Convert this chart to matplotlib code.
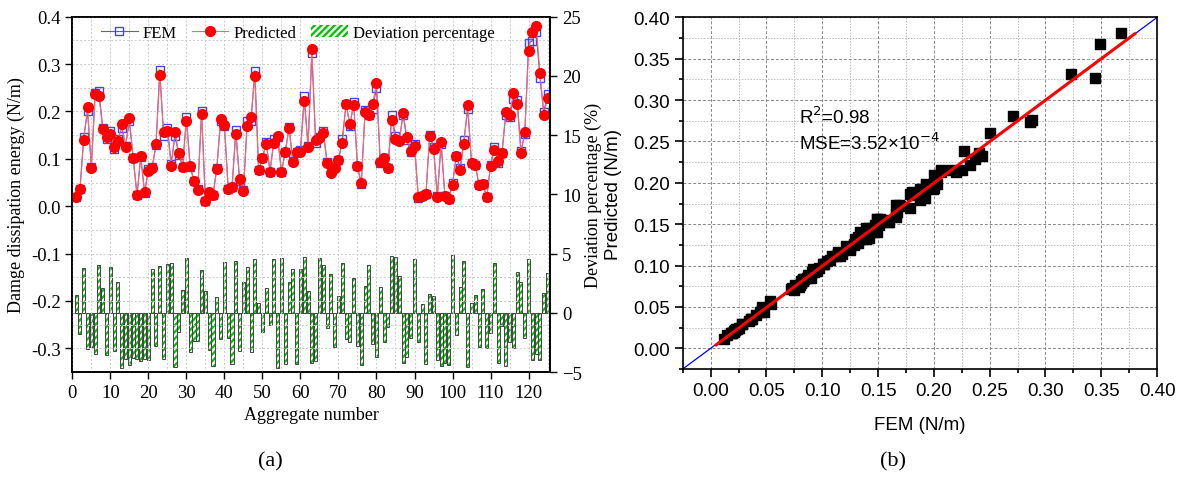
import numpy as np
import matplotlib
matplotlib.use("Agg")
import matplotlib.pyplot as plt
from matplotlib.ticker import MultipleLocator, FormatStrFormatter
from matplotlib.patches import Patch
from matplotlib.lines import Line2D

# aggregate numbers 1..125
aggregate = list(range(1, 126))

# FEM damage dissipation energy (N/m)
fem = [0.019, 0.036, 0.146, 0.200, 0.083, 0.240, 0.243, 0.166, 0.142, 0.159,
       0.121, 0.141, 0.166, 0.128, 0.179, 0.102, 0.024, 0.104, 0.028, 0.079,
       0.082, 0.129, 0.288, 0.149, 0.166, 0.090, 0.149, 0.109, 0.083, 0.188,
       0.083, 0.054, 0.036, 0.200, 0.012, 0.028, 0.023, 0.081, 0.180, 0.170,
       0.037, 0.041, 0.160, 0.053, 0.034, 0.179, 0.180, 0.286, 0.076, 0.102,
       0.135, 0.073, 0.141, 0.147, 0.072, 0.114, 0.167, 0.095, 0.114, 0.118,
       0.232, 0.128, 0.323, 0.134, 0.146, 0.159, 0.093, 0.075, 0.082, 0.097,
       0.142, 0.216, 0.169, 0.220, 0.084, 0.046, 0.203, 0.192, 0.206, 0.250,
       0.092, 0.101, 0.081, 0.192, 0.149, 0.139, 0.193, 0.139, 0.114, 0.132,
       0.018, 0.022, 0.025, 0.151, 0.125, 0.021, 0.132, 0.021, 0.015, 0.048,
       0.107, 0.080, 0.139, 0.206, 0.091, 0.087, 0.044, 0.046, 0.019, 0.086,
       0.125, 0.092, 0.112, 0.193, 0.188, 0.227, 0.225, 0.116, 0.152, 0.344,
       0.349, 0.368, 0.271, 0.199, 0.237]

# predicted damage dissipation energy (N/m)
pred = [0.019, 0.036, 0.140, 0.209, 0.081, 0.236, 0.232, 0.162, 0.146, 0.153,
        0.124, 0.138, 0.173, 0.125, 0.186, 0.102, 0.023, 0.105, 0.029, 0.074,
        0.081, 0.132, 0.276, 0.156, 0.159, 0.085, 0.156, 0.112, 0.083, 0.179,
        0.084, 0.054, 0.035, 0.194, 0.011, 0.029, 0.023, 0.079, 0.185, 0.172,
        0.036, 0.040, 0.153, 0.057, 0.033, 0.170, 0.189, 0.274, 0.076, 0.102,
        0.132, 0.073, 0.133, 0.149, 0.072, 0.114, 0.165, 0.093, 0.114, 0.114,
        0.222, 0.126, 0.332, 0.140, 0.144, 0.155, 0.092, 0.070, 0.081, 0.097,
        0.133, 0.216, 0.173, 0.213, 0.084, 0.050, 0.198, 0.192, 0.216, 0.260,
        0.093, 0.102, 0.081, 0.182, 0.141, 0.138, 0.197, 0.146, 0.117, 0.127,
        0.019, 0.022, 0.025, 0.149, 0.121, 0.020, 0.135, 0.021, 0.016, 0.044,
        0.107, 0.076, 0.132, 0.213, 0.092, 0.088, 0.044, 0.046, 0.019, 0.085,
        0.119, 0.096, 0.112, 0.199, 0.193, 0.239, 0.216, 0.112, 0.156, 0.327,
        0.368, 0.381, 0.281, 0.193, 0.229]

# deviation percentage (%)
deviation = [1.5, -1.8, 3.75, -3.05, -2.9, -3.5, 4.0, 2.1, -3.6, 3.9,
             -3.2, 2.6, -4.7, -3.9, -4.4, -3.8, -3.9, -4.1, -3.9, -4.0,
             3.7, -2.8, 3.95, -3.9, 4.15, 4.2, -4.6, -1.6, 1.9, 4.65,
             -3.3, -2.35, -2.35, 3.6, 1.8, -3.1, -4.5, 1.3, -2.2, 4.3,
             -2.1, -4.3, 4.4, -3.2, 2.6, 3.9, -3.35, 4.5, 0.8, -1.65,
             2.1, -1.0, 4.55, -4.7, 4.6, -4.3, 2.6, 3.7, -4.3, 3.7,
             4.75, 1.85, -4.2, -4.05, 4.65, 4.0, -1.3, 3.3, -2.85, 1.4,
             4.2, -2.2, -2.45, 2.9, -2.8, -4.4, 2.3, 4.0, -2.6, -3.7,
             2.2, -2.5, -1.2, 4.8, 4.7, 3.1, -4.2, -3.7, -2.1, 4.5,
             -2.45, 0.75, -4.3, 1.55, 1.4, -4.0, -4.5, -4.2, -4.4, 4.85,
             -1.85, 2.2, 4.4, -4.55, 0.8, 1.5, -2.9, 2.0, -2.95, -1.7,
             4.2, -4.2, -1.1, -4.5, -2.5, -3.0, 3.45, 2.6, -2.15, 4.5,
             -4.0, -3.5, -4.0, 1.7, 3.4]

serif = ["Liberation Serif", "DejaVu Serif"]
sans = ["Liberation Sans", "DejaVu Sans"]
plt.rcParams["hatch.linewidth"] = 1.6

fig = plt.figure(figsize=(11.8, 4.81), dpi=100)

# ---------------- (a) ----------------
ax = fig.add_axes([0.0613, 0.2245, 0.405, 0.7387])
ax2 = ax.twinx()
ax.set_zorder(ax2.get_zorder() + 1)
ax.patch.set_visible(False)
ax2.set_facecolor("#f8f8f8")

green = "#10b810"
ax2.bar(aggregate, deviation, width=0.8, color="#e8f8e8", edgecolor=green,
        hatch="/////", linewidth=0)
ax2.bar(aggregate, deviation, width=0.8, color="none", edgecolor="#444444",
        linewidth=0.7)
ax2.axhline(0, color="#aaaaaa", lw=0.8, zorder=0)
ax2.set_ylim(-5, 25)
ax2.yaxis.set_major_locator(MultipleLocator(5))
ax2.set_ylabel("Deviation percentage (%)", family=serif, fontsize=13, labelpad=2)

ax.plot(aggregate, fem, color="#5555ee", lw=0.8, marker="s", ms=6,
        mfc="none", mec="#4444ee", mew=1.0)
ax.plot(aggregate, pred, color="#ff6666", lw=0.8, marker="o", ms=7,
        mfc="red", mec="red")
ax.set_xlim(0, 125.7)
ax.set_ylim(-0.35, 0.4)
ax.xaxis.set_major_locator(MultipleLocator(10))
ax.xaxis.set_minor_locator(MultipleLocator(5))
ax.yaxis.set_major_locator(MultipleLocator(0.1))
ax.yaxis.set_minor_locator(MultipleLocator(0.05))
ax.yaxis.set_major_formatter(FormatStrFormatter("%.1f"))
ax.grid(which="both", color="#cccccc", ls=(0, (2, 2)), lw=0.7)
ax.set_xlabel("Aggregate number", family=serif, fontsize=13)
ax.set_ylabel("Damge dissipation energy (N/m)", family=serif, fontsize=13)
for a in (ax, ax2):
    a.tick_params(which="major", direction="out", length=5, width=1, labelsize=13.5)
    a.tick_params(which="minor", length=0)
    for lab in a.get_xticklabels() + a.get_yticklabels():
        lab.set_family(serif)
    for s in a.spines.values():
        s.set_linewidth(1.2)

handles = [Line2D([], [], color="#5555ee", lw=0.8, marker="s", ms=6, mfc="none", mec="#4444ee"),
           Line2D([], [], color="#ff6666", lw=0.8, marker="o", ms=7, mfc="red", mec="red"),
           Patch(facecolor="#e8f8e8", edgecolor=green, hatch="/////", lw=0)]
ax.legend(handles, ["FEM", "Predicted", "Deviation percentage"], ncol=3,
          loc="upper center", bbox_to_anchor=(0.472, 1.02), frameon=False,
          prop={"family": serif, "size": 12}, handlelength=2.2, columnspacing=0.9,
          handletextpad=0.3)

fig.text(0.229, 0.03, "(a)", family=serif, fontsize=16, ha="center")

# ---------------- (b) ----------------
bx = fig.add_axes([0.5786, 0.2308, 0.402, 0.731])
bx.plot([-0.025, 0.40], [-0.025, 0.40], color="blue", lw=0.9, zorder=2)
bx.scatter(fem, pred, marker="s", s=45, color="black", zorder=3)
k, b0 = np.polyfit(fem, pred, 1)
xf = np.array([0.005, 0.38])
bx.plot(xf, k * xf + b0, color="red", lw=2.2, zorder=4)
bx.set_xlim(-0.025, 0.40)
bx.set_ylim(-0.025, 0.40)
for axis in (bx.xaxis, bx.yaxis):
    axis.set_major_locator(MultipleLocator(0.05))
    axis.set_minor_locator(MultipleLocator(0.025))
    axis.set_major_formatter(FormatStrFormatter("%.2f"))
bx.grid(which="major", color="#888888", ls=(0, (3, 2)), lw=0.7, zorder=0)
bx.grid(which="minor", color="#bbbbbb", ls=(0, (1.5, 1.5)), lw=0.7, zorder=0)
bx.tick_params(which="major", direction="out", length=6, width=1.2, labelsize=13.5)
bx.tick_params(which="minor", direction="out", length=3, width=1.2)
for lab in bx.get_xticklabels() + bx.get_yticklabels():
    lab.set_family(sans)
for s in bx.spines.values():
    s.set_linewidth(1.2)
bx.set_xlabel("FEM (N/m)", family=sans, fontsize=13.5, labelpad=12)
bx.set_ylabel("Predicted (N/m)", family=sans, fontsize=13.5, labelpad=8)
bx.text(0.079, 0.28, "R$^2$=0.98", family=sans, fontsize=13.5, va="center")
bx.text(0.079, 0.249, "MSE=3.52\u00d710$^{-4}$", family=sans, fontsize=13.5, va="center")

fig.text(0.757, 0.03, "(b)", family=serif, fontsize=16, ha="center")

fig.savefig("out.png", dpi=100)
